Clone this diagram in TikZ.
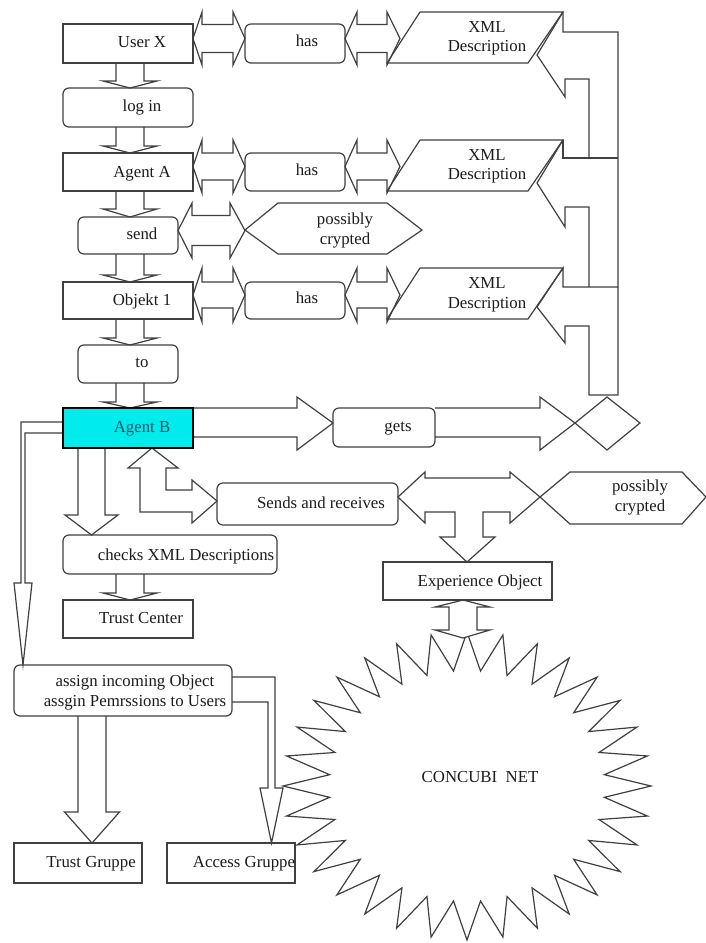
\documentclass[tikz,border=0pt]{standalone}
\usepackage{fontspec}
\setmainfont{Liberation Serif}
\usetikzlibrary{calc,backgrounds}

\definecolor{ink}{RGB}{64,64,64}
\definecolor{txtcol}{RGB}{28,28,28}
\definecolor{agentcyan}{RGB}{0,236,236}
\definecolor{agentink}{RGB}{24,84,110}

\tikzset{
  line/.style={draw=ink, line width=1.2pt, line join=miter},
  blockarrow/.style={line, fill=white},
  sqbox/.style={line, rectangle, inner sep=0pt, outer sep=0pt},
  rbox/.style={sqbox, rounded corners=6pt},
  lbl/.style={text=txtcol, font=\fontsize{16.8}{19.5}\selectfont, inner sep=0pt, text height=11.6pt, text depth=0pt},
  lbl2/.style={text=txtcol, font=\fontsize{16.8}{19.5}\selectfont, inner sep=0pt, align=center},
}

% downward block arrow from the bottom of #1 to the top of #2
% #3 axis x, #4 shaft half width, #5 head half width, #6 head length
\newcommand{\dnblk}[6]{%
  \draw[blockarrow] let \p1=(#1.south), \p2=(#2.north) in
    (#3-#4,\y1) -- (#3-#4,\y2+#6pt) -- (#3-#5,\y2+#6pt) -- (#3,\y2)
    -- (#3+#5,\y2+#6pt) -- (#3+#4,\y2+#6pt) -- (#3+#4,\y1);}

% left-right block arrow: left tip on the east side of #1, right tip at x=#2,
% centre line y=#3, head bases at x=#4 and x=#5, shaft half #6, head half #7
\newcommand{\lrblk}[7]{%
  \draw[blockarrow] let \p1=(#1.east) in
    (\x1,#3) -- (#4,#3-#7) -- (#4,#3-#6) -- (#5,#3-#6) -- (#5,#3-#7) -- (#2,#3)
    -- (#5,#3+#7) -- (#5,#3+#6) -- (#4,#3+#6) -- (#4,#3+#7) -- cycle;}

\begin{document}
\begin{tikzpicture}[x=1pt,y=-1pt]
\useasboundingbox (0,0) rectangle (706,943);

% ---------------- boxes ----------------
\node[sqbox, minimum width=130pt, minimum height=39pt] (userx)  at (128,43.5) {};
\node[rbox,  minimum width=130pt, minimum height=39pt] (login)  at (128,107.5) {};
\node[sqbox, minimum width=130pt, minimum height=38pt] (agenta) at (128,172) {};
\node[rbox,  minimum width=100pt, minimum height=37pt] (send)   at (128,235.5) {};
\node[sqbox, minimum width=130pt, minimum height=37pt] (objekt) at (128,300.5) {};
\node[rbox,  minimum width=100pt, minimum height=38pt] (to)     at (128,364) {};
\node[sqbox, minimum width=130pt, minimum height=40pt, fill=agentcyan, draw=black, line width=2.5pt] (agentb) at (128,428) {};
\node[rbox,  minimum width=214pt, minimum height=39pt] (checks) at (170,554.5) {};
\node[sqbox, minimum width=130pt, minimum height=38pt] (trustc) at (128,619) {};
\node[rbox,  minimum width=218pt, minimum height=51pt] (assign) at (123,690.5) {};
\node[sqbox, minimum width=128pt, minimum height=40pt] (trustg) at (78,863) {};
\node[sqbox, minimum width=128pt, minimum height=40pt] (accessg) at (231,863) {};
\node[rbox,  minimum width=100pt, minimum height=39pt] (has1)   at (295,43.5) {};
\node[rbox,  minimum width=100pt, minimum height=38pt] (has2)   at (295,172) {};
\node[rbox,  minimum width=100pt, minimum height=37pt] (has3)   at (295,300.5) {};
\node[rbox,  minimum width=102pt, minimum height=39pt] (gets)   at (384,427.5) {};
\node[rbox,  minimum width=181pt, minimum height=42pt] (sends)  at (307.5,504) {};
\node[sqbox, minimum width=169pt, minimum height=38pt] (expobj) at (467.5,581) {};

\begin{scope}[on background layer]
  \fill[white] (0,0) rectangle (706,943);

  % CONCUBI NET: 32-point star
  \draw[line, fill=white] (651,786)
    \foreach \k in {0,...,31} {
      -- ({467+184*cos(\k*11.25)},{786+154*sin(\k*11.25)})
      -- ({467+138*cos(\k*11.25+5.625)},{786+115.5*sin(\k*11.25+5.625)})
    } -- cycle;

  % main column arrows
  \dnblk{userx}{login}{130}{14}{27}{7}
  \dnblk{login}{agenta}{130}{14}{27}{7}
  \dnblk{agenta}{send}{130}{14}{27}{8}
  \dnblk{send}{objekt}{130}{14}{27}{7}
  \dnblk{objekt}{to}{130}{14}{27}{7}
  \dnblk{to}{agentb}{130}{14}{27}{6}
  \dnblk{agentb}{checks}{91.5}{13.5}{26.5}{20}
  \dnblk{checks}{trustc}{130}{14}{27}{7}
  \dnblk{assign}{trustg}{92}{14}{27.5}{31}

  % "has" rows
  \lrblk{userx}{245}{38.5}{202}{233}{14}{26.5}
  \lrblk{has1}{400}{38.5}{357}{387}{14}{26.5}
  \lrblk{agenta}{245}{166.5}{202}{233}{13.5}{26.5}
  \lrblk{has2}{400}{166.5}{357}{387}{13.5}{26.5}
  \lrblk{send}{245}{230.5}{192}{230}{15}{27.5}
  \lrblk{objekt}{245}{295}{202}{233}{13}{27}
  \lrblk{has3}{400}{295}{357}{387}{13}{27}

  % Agent B gets ...
  \draw[blockarrow] let \p1=(agentb.east), \p2=(gets.west) in
    (\x1,408) -- (297,408) -- (297,397) -- (\x2,423) -- (297,450) -- (297,437) -- (\x1,437);
  \draw[blockarrow] let \p1=(gets.east) in
    (\x1,408) -- (540,408) -- (540,397) -- (575,423) -- (540,450) -- (540,437) -- (\x1,437);

  % Agent B down the left side to the assignment box
  \draw[blockarrow] let \p1=(agentb.west), \p2=(assign.north) in
    (\x1,422) -- (21,422) -- (21,583) -- (14,583) -- (23,\y2) -- (32,583) -- (25,583) -- (25,433) -- (\x1,433);

  % assignment box to Access Gruppe
  \draw[blockarrow] let \p1=(assign.east), \p2=(accessg.north) in
    (\x1,677) -- (275,677) -- (275,788) -- (283,788) -- (271.5,\y2) -- (260,788) -- (268,788) -- (268,702) -- (\x1,702);

  % Agent B <-> Sends and receives
  \draw[blockarrow] let \p1=(agentb.south), \p2=(sends.west) in
    (140,512) -- (140,468) -- (128,468) -- (152,\y1) -- (178,468) -- (166,468) -- (166,490)
    -- (192,490) -- (192,480) -- (\x2,501) -- (192,523) -- (192,512) -- cycle;

  % Sends and receives <-> possibly crypted, down to Experience Object
  \draw[blockarrow] let \p1=(sends.east), \p2=(expobj.north) in
    (\x1,497) -- (425,472) -- (425,478) -- (510,478) -- (510,472) -- (540,497) -- (510,523)
    -- (510,512) -- (483,512) -- (483,537) -- (495,537) -- (467,\y2) -- (440,537)
    -- (455,537) -- (455,512) -- (425,512) -- (425,523) -- cycle;

  % Experience Object <-> CONCUBI NET
  \draw[blockarrow] let \p1=(expobj.south) in
    (449,607) -- (435,607) -- (463,\y1) -- (490,607) -- (477,607) -- (477,630)
    -- (490,630) -- (463,638) -- (435,630) -- (449,630) -- cycle;
\end{scope}

% XML descriptions
\draw[line] (387,63)  -- (420,12)  -- (563,12)  -- (528,63)  -- cycle;
\draw[line] (387,191) -- (420,140) -- (563,140) -- (528,191) -- cycle;
\draw[line] (387,319) -- (420,268) -- (563,268) -- (528,319) -- cycle;

% possibly crypted
\draw[line] (245,230) -- (278,203) -- (387,203) -- (422,230) -- (387,254) -- (278,254) -- cycle;
\draw[line] (540,497) -- (570,472) -- (682,472) -- (706,497) -- (682,524) -- (570,524) -- cycle;

% diamond collecting "gets"
\draw[line] (575,423) -- (607,397) -- (640,423) -- (607,450) -- cycle;

% trunk feeding the three XML descriptions
\draw[line] (563,12) -- (537,55) -- (565,97) -- (565,79) -- (589,79) -- (589,158);
\draw[line] (563,12) -- (563,32) -- (618,32) -- (618,395) -- (589,395) -- (589,326)
  -- (565,326) -- (565,343) -- (537,307) -- (563,268) -- (563,287) -- (618,287);
\draw[line] (563,140) -- (563,158) -- (618,158);
\draw[line] (563,140) -- (537,183) -- (565,227) -- (565,207) -- (589,207) -- (589,287);

% ---------------- texts ----------------
\node[lbl] (userx-t)  at (142,42)  {User X};
\node[lbl] (login-t)  at (142,106) {log in};
\node[lbl] (agenta-t) at (142,172) {Agent A};
\node[lbl] (send-t)   at (142,234) {send};
\node[lbl] (objekt-t) at (142,300) {Objekt 1};
\node[lbl] (to-t)     at (142,362) {to};
\node[lbl, text=agentink] (agentb-t) at (142,427) {Agent B};
\node[lbl] (has1-t)   at (307,41)  {has};
\node[lbl] (has2-t)   at (307,170) {has};
\node[lbl] (has3-t)   at (307,298) {has};
\node[lbl2] (xml1)    at (487,38.5)  {XML\\Description};
\node[lbl2] (xml2)    at (487,166.5) {XML\\Description};
\node[lbl2] (xml3)    at (487,295)   {XML\\Description};
\node[lbl2] (crypt1)  at (345,230.6) {possibly\\crypted};
\node[lbl2] (crypt2)  at (640,497.7) {possibly\\crypted};
\node[lbl] (gets-t)   at (398,426) {gets};
\node[lbl] (sends-t)  at (321,503) {Sends and receives};
\node[lbl] (checks-t) at (186,555) {checks XML Descriptions};
\node[lbl] (trustc-t) at (141,618) {Trust Center};
\node[lbl] (expobj-t) at (480,581) {Experience Object};
\node[lbl2] (assign-t) at (135,692.6) {assign incoming Object\\assgin Pemrssions to Users};
\node[lbl] (trustg-t) at (91,862)  {Trust Gruppe};
\node[lbl] (accessg-t) at (244,862) {Access Gruppe};
\node[lbl] (net)      at (480,777) {CONCUBI\ \ NET};
\end{tikzpicture}
\end{document}
